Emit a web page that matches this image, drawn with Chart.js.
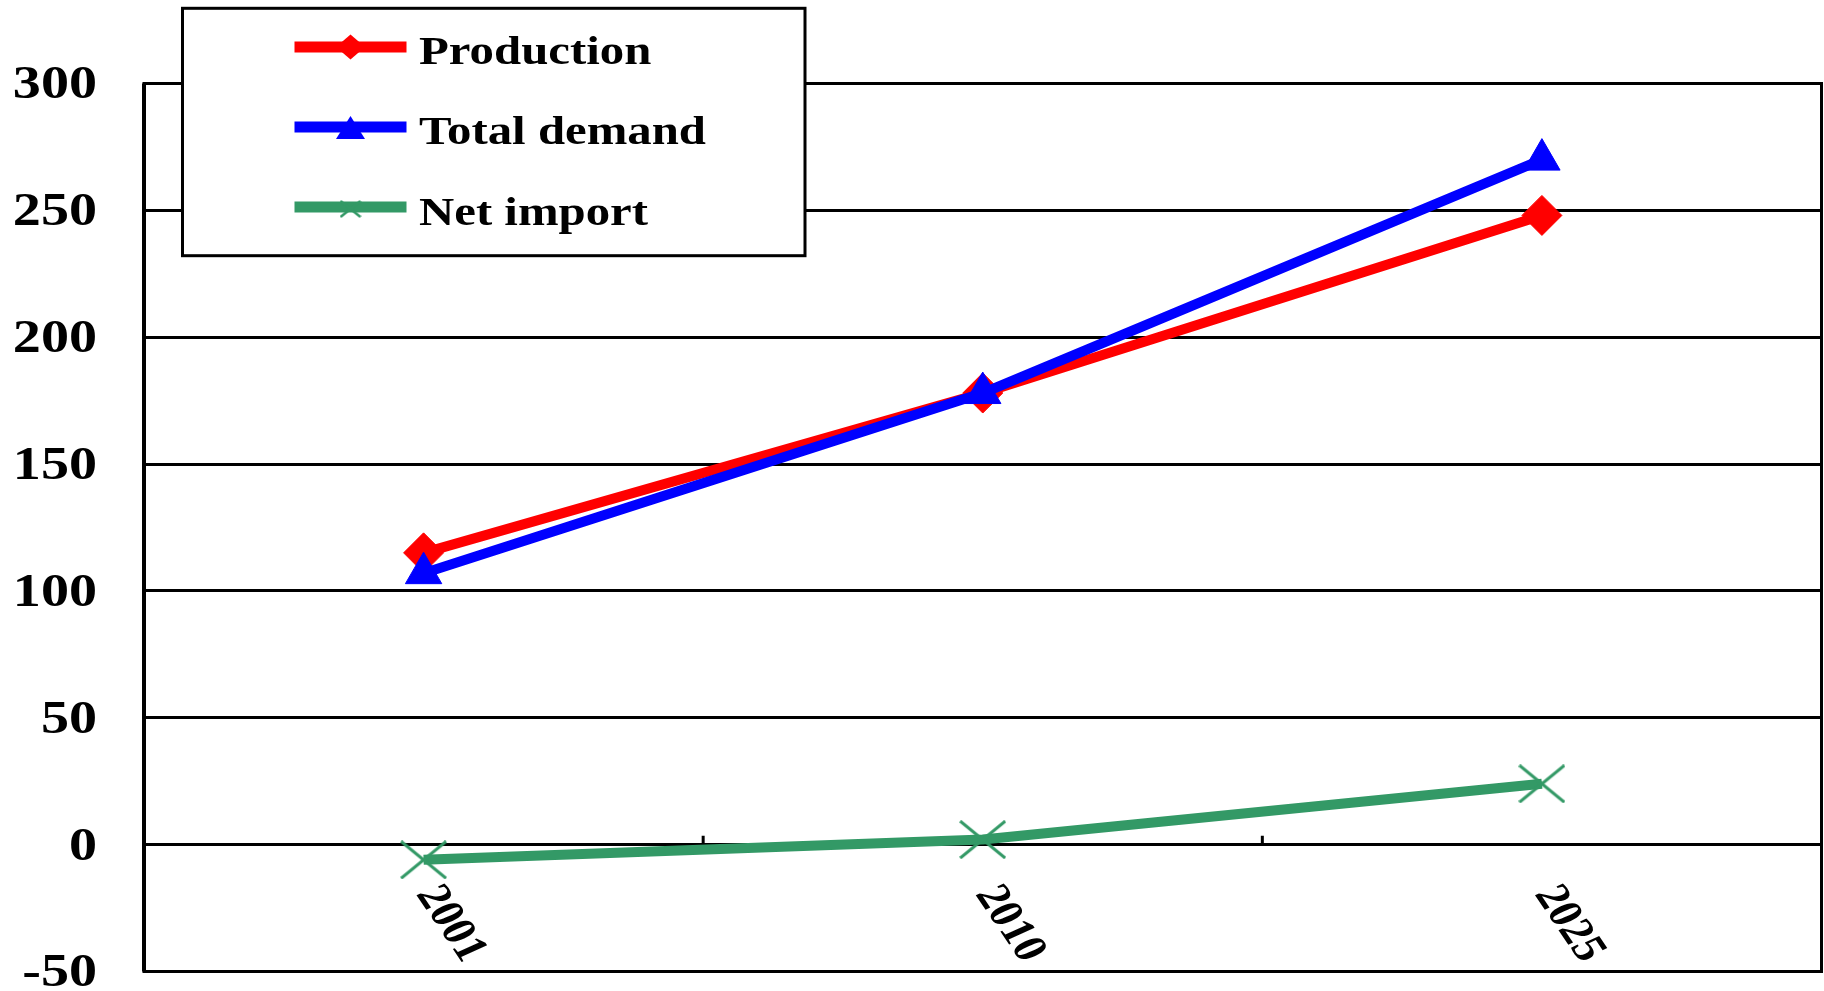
<!DOCTYPE html>
<html>
<head>
<meta charset="utf-8">
<script src="https://cdn.jsdelivr.net/npm/chart.js@4/dist/chart.umd.min.js"></script>
<style>
  html, body { margin: 0; padding: 0; background: #fff; overflow: hidden; }
  #wrap { width: 1824px; height: 991px; }
  canvas { display: block; }
</style>
</head>
<body>
<div id="wrap"><canvas id="myChart" width="1824" height="991"></canvas></div>
<script>
var years = ['2001', '2010', '2025'];
var production = [115, 178, 248];
var totalDemand = [107, 178, 270];
var netImport = [-6, 2, 24];
var yTicks = [-50, 0, 50, 100, 150, 200, 250, 300];
var seriesNames = ['Production', 'Total demand', 'Net import'];

var RED = '#ff0000', BLUE = '#0000ff', GREEN = '#339966';
var FONT = '"Liberation Serif", "Times New Roman", serif';
var STRETCH = 1.22; // text is drawn a bit wide

// X shaped marker for the net import line
function crossMarker(w, h, lw) {
    var c = document.createElement('canvas');
    c.width = w;
    c.height = h;
    var g = c.getContext('2d');
    g.strokeStyle = GREEN;
    g.lineWidth = lw;
    g.beginPath();
    g.moveTo(1, 1); g.lineTo(w - 1, h - 1);
    g.moveTo(w - 1, 1); g.lineTo(1, h - 1);
    g.stroke();
    return c;
}

function wideText(ctx, text, x, y, align, angle) {
    ctx.save();
    ctx.translate(x, y);
    ctx.scale(STRETCH, 1);
    if (angle) ctx.rotate(angle);
    ctx.textAlign = align;
    ctx.fillText(text, 0, 0);
    ctx.restore();
}

var framePlugin = {
    id: 'frame',
    beforeDatasetsDraw: function(chart) {
        var ctx = chart.ctx, a = chart.chartArea;
        var xs = chart.scales.x, ys = chart.scales.y;
        ctx.save();
        ctx.strokeStyle = '#000';
        ctx.lineWidth = 3;
        ctx.strokeRect(a.left, a.top, a.right - a.left, a.bottom - a.top);
        ctx.lineWidth = 4;
        ctx.beginPath();
        ctx.moveTo(a.left, a.top);
        ctx.lineTo(a.left, a.bottom);
        ctx.stroke();
        // small inside ticks on the zero line between the years
        var y0 = ys.getPixelForValue(0);
        ctx.lineWidth = 3;
        ctx.beginPath();
        for (var i = 0; i < years.length - 1; i++) {
            var bx = (xs.getPixelForValue(i) + xs.getPixelForValue(i + 1)) / 2;
            ctx.moveTo(bx, y0);
            ctx.lineTo(bx, y0 - 9);
        }
        ctx.stroke();
        ctx.restore();
    },
    afterDraw: function(chart) {
        var ctx = chart.ctx;
        var xs = chart.scales.x, ys = chart.scales.y;
        ctx.save();
        ctx.fillStyle = '#000';

        // y axis labels
        ctx.font = 'bold 46px ' + FONT;
        ctx.textBaseline = 'middle';
        yTicks.forEach(function(v) {
            wideText(ctx, String(v), 97, ys.getPixelForValue(v) + 3, 'right');
        });

        // slanted year labels under the zero line
        ctx.font = 'bold 40px ' + FONT;
        var y0 = ys.getPixelForValue(0);
        years.forEach(function(lbl, i) {
            wideText(ctx, lbl, xs.getPixelForValue(i) + 3, y0 + 44, 'left', 61 * Math.PI / 180);
        });

        // legend box
        ctx.fillStyle = '#fff';
        ctx.fillRect(182.5, 8.3, 622.5, 247.4);
        ctx.strokeStyle = '#000';
        ctx.lineWidth = 3;
        ctx.strokeRect(182.5, 8.3, 622.5, 247.4);

        var rows = [47, 127, 207];
        var colors = [RED, BLUE, GREEN];
        var mx = 350.5;
        rows.forEach(function(ry, i) {
            ctx.strokeStyle = colors[i];
            ctx.lineWidth = 11;
            ctx.beginPath();
            ctx.moveTo(294.5, ry);
            ctx.lineTo(406.5, ry);
            ctx.stroke();
            ctx.fillStyle = colors[i];
            ctx.beginPath();
            if (i === 0) {
                ctx.moveTo(mx, ry - 12.5);
                ctx.lineTo(mx + 14.5, ry);
                ctx.lineTo(mx, ry + 12.5);
                ctx.lineTo(mx - 14.5, ry);
                ctx.closePath();
                ctx.fill();
            } else if (i === 1) {
                ctx.moveTo(mx, ry - 11);
                ctx.lineTo(mx + 14.5, ry + 12);
                ctx.lineTo(mx - 14.5, ry + 12);
                ctx.closePath();
                ctx.fill();
            } else {
                ctx.drawImage(crossMarker(22, 18, 2.5), mx - 11, ry - 7);
            }
        });

        ctx.fillStyle = '#000';
        ctx.font = 'bold 40px ' + FONT;
        ctx.textBaseline = 'alphabetic';
        var baselines = [64, 144, 225];
        seriesNames.forEach(function(name, i) {
            wideText(ctx, name, 419, baselines[i], 'left');
        });
        ctx.restore();
    }
};

var ctx = document.getElementById('myChart').getContext('2d');
var myChart = new Chart(ctx, {
    type: 'line',
    data: {
        labels: years,
        datasets: [{
            label: seriesNames[0],
            data: production,
            borderColor: RED,
            backgroundColor: RED,
            borderWidth: 10,
            pointStyle: 'rectRot',
            pointRadius: 20,
            pointBorderWidth: 1,
            order: 1
        }, {
            label: seriesNames[1],
            data: totalDemand,
            borderColor: BLUE,
            backgroundColor: BLUE,
            borderWidth: 10,
            pointStyle: 'triangle',
            pointRadius: 21,
            pointBorderWidth: 1,
            order: 0
        }, {
            label: seriesNames[2],
            data: netImport,
            borderColor: GREEN,
            backgroundColor: GREEN,
            borderWidth: 10,
            pointStyle: crossMarker(47, 39, 3),
            pointRadius: 20,
            order: 2
        }]
    },
    options: {
        responsive: false,
        animation: false,
        devicePixelRatio: 1,
        layout: {
            autoPadding: false,
            padding: { left: 144, top: 83.5, right: 2.5, bottom: 19.5 }
        },
        plugins: {
            legend: { display: false },
            tooltip: { enabled: false }
        },
        elements: { line: { tension: 0, borderCapStyle: 'butt', borderJoinStyle: 'round' } },
        scales: {
            x: {
                display: false,
                offset: true
            },
            y: {
                min: -50,
                max: 300,
                ticks: { stepSize: 50, display: false },
                grid: { color: '#000', lineWidth: 3, drawTicks: false },
                border: { display: false },
                afterFit: function(scale) { scale.width = 0; }
            }
        }
    },
    plugins: [framePlugin]
});
</script>
</body>
</html>
